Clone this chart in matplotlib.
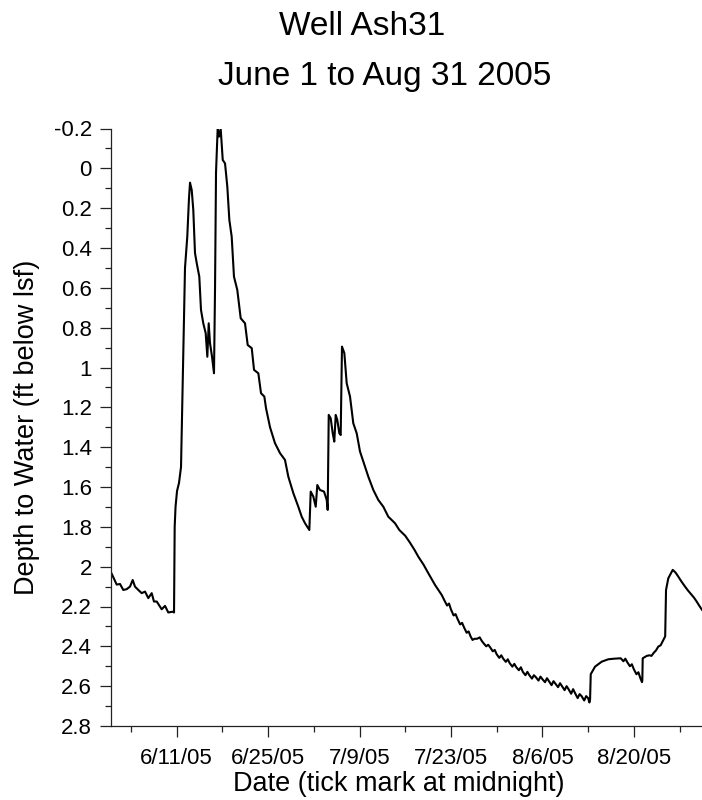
import matplotlib
matplotlib.use("Agg")
import matplotlib.pyplot as plt
import matplotlib.ticker as mticker
import pandas as pd

plt.rcParams['font.family'] = ['Liberation Sans', 'DejaVu Sans']

# Logger record for well Ash31, summer 2005
START = pd.Timestamp("2005-06-01")
END = pd.Timestamp("2005-09-01")

# elapsed time since June 1 00:00, in days
elapsed_days = [
    0.05, 0.81, 1.32, 1.82, 2.34, 2.85, 3.26, 3.61, 4.12, 4.64, 5.15, 5.65,
    6.17, 6.52, 6.94, 7.70, 8.21, 8.71, 9.39, 9.59, 9.69, 9.82, 10.05, 10.35,
    10.66, 10.96, 11.27, 11.53, 11.62, 11.88, 12.04, 12.30, 12.54, 12.80,
    13.06, 13.46, 13.72, 14.07, 14.44, 14.69, 14.90, 15.10, 15.41, 15.71,
    15.87, 16.02, 16.28, 16.48, 16.74, 17.05, 17.40, 17.75, 18.06, 18.42,
    18.77, 19.28, 19.80, 20.46, 20.87, 21.49, 21.84, 22.50, 22.91, 23.42,
    23.68, 24.29, 25.05, 25.82, 26.58, 27.09, 27.86, 28.62, 29.14, 29.65,
    30.31, 30.52, 30.92, 31.29, 31.53, 31.94, 32.56, 32.97, 33.12, 33.28,
    33.58, 33.89, 34.13, 34.35, 34.59, 34.90, 35.11, 35.31, 35.67, 36.03,
    36.54, 37.04, 37.56, 38.07, 38.84, 39.34, 40.11, 40.87, 41.64, 42.40,
    43.43, 44.09, 45.00, 45.73, 46.40, 47.00, 47.80, 48.53, 49.56, 50.58,
    51.0, 51.4, 51.7, 52.0, 52.4, 52.7, 53.0, 53.4, 53.7, 54.0, 54.4, 54.7,
    55.0, 55.3, 55.6, 56.0, 56.4, 56.7, 57.0, 57.4, 57.7, 58.0, 58.4, 58.7,
    59.0, 59.4, 59.7, 60.0, 60.4, 60.7, 61.0, 61.4, 61.7, 62.0, 62.4, 62.7,
    63.0, 63.4, 63.7, 64.0, 64.4, 64.7, 65.0, 65.4, 65.7, 66.0, 66.4, 66.7,
    67.0, 67.4, 67.7, 68.0, 68.4, 68.7, 69.0, 69.4, 69.7, 70.0, 70.4, 70.7,
    71.0, 71.4, 71.7, 72.0, 72.4, 72.7, 73.0, 73.2, 73.3, 73.40, 74.06,
    75.08, 76.09, 77.00, 78.0, 78.4, 78.7, 79.0, 79.4, 79.7, 80.0, 80.4,
    80.7, 81.0, 81.25, 81.30, 81.36, 81.98, 82.4, 82.7, 82.99, 83.4, 83.75,
    84.1, 84.52, 84.80, 84.93, 85.28, 85.96, 86.40, 86.81, 87.30, 87.84,
    88.30, 88.86, 89.20, 89.62, 90.00, 90.44, 90.90,
]

# depth to water, ft below land surface
depth_ft = [
    2.036, 2.090, 2.087, 2.117, 2.113, 2.100, 2.067, 2.100, 2.117, 2.133,
    2.125, 2.158, 2.133, 2.175, 2.175, 2.214, 2.197, 2.230, 2.226, 2.230,
    1.800, 1.700, 1.620, 1.580, 1.500, 1.000, 0.500, 0.385, 0.343, 0.150,
    0.072, 0.109, 0.209, 0.425, 0.475, 0.544, 0.711, 0.778, 0.828, 0.946,
    0.778, 0.878, 0.946, 1.029, 0.600, 0.020, -0.206, -0.159, -0.196, -0.042,
    -0.025, 0.092, 0.259, 0.343, 0.544, 0.611, 0.753, 0.778, 0.887, 0.903,
    1.012, 1.029, 1.129, 1.146, 1.205, 1.300, 1.380, 1.430, 1.464, 1.548,
    1.631, 1.699, 1.749, 1.782, 1.816, 1.623, 1.648, 1.699, 1.590, 1.615,
    1.623, 1.665, 1.715, 1.238, 1.255, 1.330, 1.372, 1.238, 1.263, 1.330,
    1.339, 0.895, 0.928, 1.079, 1.146, 1.280, 1.330, 1.422, 1.498, 1.548,
    1.615, 1.665, 1.699, 1.749, 1.782, 1.816, 1.845, 1.880, 1.915, 1.950,
    1.990, 2.033, 2.092, 2.142,
    2.170, 2.195, 2.185, 2.215, 2.245, 2.238, 2.262, 2.290, 2.282, 2.305,
    2.332, 2.325, 2.350, 2.368, 2.362, 2.362, 2.355, 2.372, 2.385, 2.400,
    2.392, 2.405, 2.425, 2.418, 2.440, 2.458, 2.445, 2.462, 2.478, 2.465,
    2.485, 2.502, 2.488, 2.505, 2.520, 2.505, 2.528, 2.545, 2.528, 2.545,
    2.562, 2.545, 2.555, 2.572, 2.552, 2.565, 2.580, 2.560, 2.575, 2.595,
    2.575, 2.588, 2.605, 2.585, 2.600, 2.620, 2.600, 2.615, 2.638, 2.615,
    2.635, 2.660, 2.640, 2.650, 2.672, 2.650, 2.660, 2.682, 2.665, 2.540,
    2.502, 2.477, 2.465, 2.462, 2.460, 2.475, 2.462, 2.480, 2.500, 2.490,
    2.515, 2.540, 2.530, 2.560, 2.580, 2.570, 2.460, 2.448, 2.445, 2.448,
    2.435, 2.420, 2.401, 2.395, 2.368, 2.350, 2.117, 2.058, 2.016, 2.030,
    2.050, 2.075, 2.100, 2.120, 2.142, 2.155, 2.175, 2.195, 2.217, 2.230,
]

major_dates = ["2005-06-11", "2005-06-25", "2005-07-09", "2005-07-23",
               "2005-08-06", "2005-08-20"]
major_labels = ["6/11/05", "6/25/05", "7/9/05", "7/23/05", "8/6/05", "8/20/05"]
minor_dates = ["2005-06-04", "2005-06-18", "2005-07-02", "2005-07-16",
               "2005-07-30", "2005-08-13", "2005-08-27"]
depth_ticks = [-0.2, 0.0, 0.2, 0.4, 0.6, 0.8, 1.0, 1.2, 1.4, 1.6, 1.8,
               2.0, 2.2, 2.4, 2.6, 2.8]
depth_labels = ["-0.2", "0", "0.2", "0.4", "0.6", "0.8", "1", "1.2", "1.4",
                "1.6", "1.8", "2", "2.2", "2.4", "2.6", "2.8"]

times = START + pd.to_timedelta(elapsed_days, unit="D")

fig = plt.figure(figsize=(7.02, 8.0), dpi=100)
ax = fig.add_axes([111.4 / 702, 74 / 800, 600.8 / 702, 597.5 / 800])

ax.plot(times, depth_ft, color="black", lw=1.5, solid_joinstyle="round")

ax.set_xlim(START, END)
ax.set_ylim(2.8, -0.2)

ax.set_xticks(pd.to_datetime(major_dates))
ax.set_xticklabels(major_labels)
ax.set_xticks(pd.to_datetime(minor_dates), minor=True)
ax.set_yticks(depth_ticks)
ax.set_yticklabels(depth_labels)
ax.yaxis.set_minor_locator(mticker.MultipleLocator(0.1))

for side in ("top", "right"):
    ax.spines[side].set_visible(False)
for side in ("left", "bottom"):
    ax.spines[side].set_linewidth(0.9)
    ax.spines[side].set_color("#222222")

ax.tick_params(axis="both", which="major", length=8, width=0.9,
               color="#222222", labelsize=16, direction="out")
ax.tick_params(axis="both", which="minor", length=4, width=0.9,
               color="#222222", direction="out")
ax.tick_params(axis="x", which="major", pad=8)
ax.tick_params(axis="y", which="major", pad=6)

ax.set_xlabel("Date (tick mark at midnight)", fontsize=19.5, labelpad=0)
ax.xaxis.set_label_coords(0.4775, -0.075)
ax.set_ylabel("Depth to Water (ft below lsf)", fontsize=19.5, labelpad=10)

fig.text(362 / 702, 1 - 35 / 800, "Well Ash31",
         ha="center", va="baseline", fontsize=24)
fig.text(385 / 702, 1 - 85 / 800, "June 1 to Aug 31 2005",
         ha="center", va="baseline", fontsize=24)

fig.savefig("out.png", dpi=100)
